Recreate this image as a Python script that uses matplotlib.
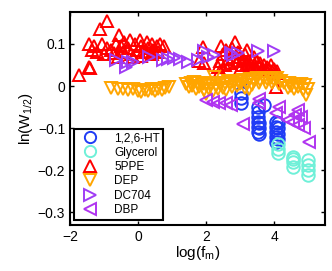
import numpy as np
import matplotlib
matplotlib.use('Agg')
import matplotlib.pyplot as plt

plt.rcParams['font.family'] = ['Liberation Sans', 'DejaVu Sans']

# Reading the data off the picture: log(f_m) and ln(W_1/2) per liquid
ht_x = [3.03, 3.03, 3.03, 3.03, 3.52, 3.52, 3.52, 3.52, 3.52, 3.52, 3.71, 3.57, 3.57, 3.57,
        4.06, 4.06, 4.06, 4.06, 4.06, 4.11, 4.11, 4.11, 4.11]
ht_y = [0.014, -0.017, -0.029, -0.041, -0.049, -0.061, -0.073, -0.085, -0.097, -0.109, -0.045,
        -0.089, -0.100, -0.113, -0.085, -0.097, -0.109, -0.121, -0.133, -0.089, -0.100, -0.113, -0.125]

gly_x = [4.11, 4.11, 4.11, 4.55, 4.55, 4.55, 4.55, 4.99, 4.99, 4.99, 4.99]
gly_y = [-0.137, -0.149, -0.160, -0.168, -0.180, -0.192, -0.174, -0.176, -0.188, -0.200, -0.212]

ppe_x = [-1.75, -1.45, -1.40, -1.45, -1.35, -1.30, -1.20, -1.12, -0.92, -1.05, -1.00, -0.90, -0.80,
         -0.70, -0.65, -0.55, -0.50, -0.45, -0.40, -0.30, -0.25, -0.20, -0.10, 0.00, 0.05, 0.10,
         0.20, 0.25, 0.30, 0.40, 0.45, 0.55, 0.60, 0.65, 0.75, 0.40, 0.10, -0.15, -0.60,
         1.80, 1.90, 1.95, 2.35, 2.40, 2.45, 2.50, 2.55, 2.60, 2.65, 2.70, 2.75, 2.80, 2.85,
         2.90, 2.95, 3.00, 3.05, 3.10, 3.15, 3.20, 3.25, 3.30, 3.35, 3.40, 3.45, 3.50, 3.55,
         3.60, 3.65, 3.70, 3.75, 3.80, 3.85, 3.90, 3.95, 4.00, 4.05, 4.10, 4.05, 2.40, 3.00,
         3.20, 3.40]
ppe_y = [0.025, 0.045, 0.042, 0.100, 0.085, 0.095, 0.080, 0.135, 0.155, 0.100, 0.075, 0.090, 0.085,
         0.078, 0.100, 0.120, 0.095, 0.080, 0.105, 0.090, 0.110, 0.075, 0.100, 0.085, 0.110, 0.095,
         0.080, 0.105, 0.090, 0.100, 0.085, 0.095, 0.080, 0.100, 0.095, 0.075, 0.072, 0.070, 0.070,
         0.060, 0.092, 0.055, 0.045, 0.060, 0.095, 0.075, 0.050, 0.085, 0.065, 0.055, 0.090,
         0.070, 0.105, 0.060, 0.080, 0.070, 0.050, 0.065, 0.075, 0.055, 0.060, 0.045, 0.065,
         0.050, 0.040, 0.060, 0.045, 0.055, 0.040, 0.050, 0.035, 0.045, 0.040, 0.050, 0.035,
         0.040, 0.030, 0.035, -0.003, 0.035, 0.040, 0.085, 0.070]

dep_x = [-0.80, -0.60, -0.45, -0.30, -0.15, 0.00, 0.10, 0.20, 0.30, 0.40, 0.50, 0.60, 0.70, 0.80,
         0.90, 1.40, 1.50, 1.55, 1.60, 1.70, 1.75, 1.80, 1.90, 1.95, 2.00, 2.10, 2.15, 2.20, 2.24,
         2.30, 2.35, 2.40, 2.50, 2.55, 2.60, 2.70, 2.75, 2.80, 2.90, 2.95, 3.00, 3.10, 3.15, 3.20,
         3.30, 3.35, 3.40, 3.50, 3.55, 3.60, 3.70, 3.75, 3.80, 3.90, 3.95, 4.00, 4.10, 4.15, 4.20,
         4.30, 4.40, 4.45, 4.50, 4.60, 4.65, 4.70, 4.80, 4.85, 4.90, 4.93, 5.00, 2.00, 1.65, 2.65,
         3.25]
dep_y = [-0.005, -0.007, -0.006, -0.010, -0.008, -0.012, -0.014, -0.010, -0.013, -0.008, -0.011,
         -0.006, -0.009, -0.004, -0.003, 0.005, -0.002, 0.008, 0.000, -0.008, 0.006, -0.003, 0.004,
         -0.010, 0.002, -0.006, 0.006, -0.012, 0.022, 0.000, -0.008, 0.005, -0.004, 0.008, -0.010,
         0.004, -0.002, 0.010, 0.000, 0.012, 0.004, 0.014, -0.004, 0.010, 0.016, 0.002, 0.012,
         0.018, 0.006, 0.014, 0.020, 0.008, 0.016, 0.020, 0.006, 0.014, 0.018, 0.004, 0.012, 0.008,
         -0.004, 0.006, 0.000, -0.008, 0.004, -0.002, 0.004, -0.010, 0.002, -0.022, -0.006, -0.018,
         0.010, 0.012, -0.008]

dc_x = [-0.65, -0.35, -0.30, -0.16, 0.33, 0.73, 0.88, 1.07, 1.22, 1.46, 1.76, 1.95, 2.05, 2.24,
        2.73, 2.78, 2.93, 3.52, 4.01]
dc_y = [0.062, 0.046, 0.058, 0.058, 0.070, 0.062, 0.064, 0.066, 0.063, 0.058, 0.062, 0.082, 0.070,
        0.074, 0.078, 0.074, 0.078, 0.082, 0.082]

dbp_x = [2.00, 2.20, 2.39, 2.59, 2.74, 3.08, 3.57, 3.55, 4.16, 4.06, 4.40, 4.70, 4.79, 4.70, 4.89,
         5.04, 4.55, 4.63]
dbp_y = [-0.033, -0.037, -0.041, -0.041, -0.045, -0.090, -0.041, -0.030, -0.049, -0.065, -0.081,
         -0.057, -0.073, -0.093, -0.100, -0.133, -0.085, -0.070]

labels = ['1,2,6-HT', 'Glycerol', '5PPE', 'DEP', 'DC704', 'DBP']

fig = plt.figure(figsize=(3.32, 2.71), dpi=100)
ax = fig.add_axes([0.211, 0.170, 0.768, 0.786])

kw = dict(linestyle='none', markerfacecolor='none', markersize=9, markeredgewidth=1.4)
ax.plot(ht_x, ht_y, 'o', color='#1f3cf5', label=labels[0], **kw)
ax.plot(gly_x, gly_y, 'o', color='#6ff0d8', label=labels[1], **kw)
ax.plot(ppe_x, ppe_y, '^', color='#ff0000', label=labels[2], **kw)
ax.plot(dep_x, dep_y, 'v', color='#ffa500', label=labels[3], **kw)
ax.plot(dc_x, dc_y, '>', color='#9f3cf5', label=labels[4], **kw)
ax.plot(dbp_x, dbp_y, '<', color='#b034f0', label=labels[5], **kw)

ax.set_xlim(-2, 5.5)
ax.set_ylim(-0.33, 0.176)
ax.set_xticks([-2, 0, 2, 4])
ax.set_xticklabels(['\u22122', '0', '2', '4'])
ax.set_yticks([-0.3, -0.2, -0.1, 0, 0.1])
ax.set_yticklabels(['\u22120.3', '\u22120.2', '\u22120.1', '0', '0.1'])
ax.tick_params(direction='in', top=True, right=True, length=3, width=1, labelsize=10)
for s in ax.spines.values():
    s.set_linewidth(1.5)

ax.set_xlabel('log(f$_\\mathregular{m}$)', fontsize=11, labelpad=0)
ax.set_ylabel('ln(W$_\\mathregular{1/2}$)', fontsize=11, labelpad=2)

leg = ax.legend(loc='lower left', bbox_to_anchor=(0.015, 0.025), fontsize=8.5, fancybox=False,
                framealpha=1, edgecolor='black', borderpad=0.3, labelspacing=0.2,
                handletextpad=0.9, handlelength=2.2, borderaxespad=0, markerscale=0.9)
leg.get_frame().set_linewidth(1.5)

fig.savefig('out.png', dpi=100)
